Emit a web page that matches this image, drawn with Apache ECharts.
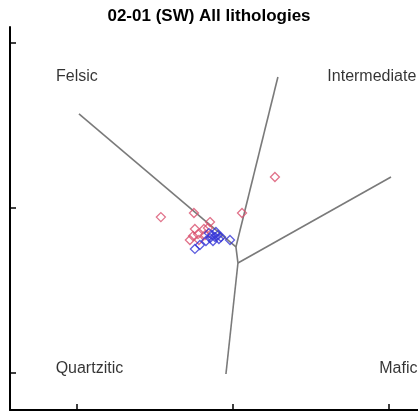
<!DOCTYPE html>
<html>
<head>
<meta charset="utf-8">
<script src="https://cdn.jsdelivr.net/npm/echarts@6/dist/echarts.min.js"></script>
<style>
html,body{margin:0;padding:0;background:#fff;}
#chart{width:418px;height:414px;}
</style>
</head>
<body>
<div id="chart"></div>
<script>
// Red group (x, y)
const redX = [0.269, -0.462, -0.250, 0.058, -0.147, -0.244, -0.186, -0.276, -0.218, -0.179, -0.224, -0.160, -0.256];
const redY = [0.188, -0.055, -0.030, -0.030, -0.085, -0.127, -0.127, -0.194, -0.194, -0.164, -0.158, -0.121, -0.170];
// Blue group (x, y)
const blueX = [-0.135, -0.115, -0.096, -0.077, -0.147, -0.173, -0.019, -0.244, -0.212, -0.109, -0.128, -0.090, -0.154];
const blueY = [-0.164, -0.176, -0.164, -0.176, -0.182, -0.200, -0.194, -0.248, -0.224, -0.145, -0.200, -0.188, -0.152];
// Boundary lines (pairs of end points)
const felsicLine = [[-0.987, 0.570], [0.019, -0.236]];
const intermediateLine = [[0.288, 0.794], [0.019, -0.236]];
const centralLine = [[0.019, -0.236], [0.032, -0.333]];
const maficLine = [[0.032, -0.333], [1.013, 0.188]];
const quartziticLine = [[0.032, -0.333], [-0.045, -1.006]];
// Region labels
const regionNames = ['Felsic', 'Intermediate', 'Quartzitic', 'Mafic'];
const regionX = [-1.0, 0.89, -0.92, 1.06];
const regionY = [0.795, 0.795, -0.972, -0.972];
const xTicks = [-1, 0, 1];
const yTicks = [-1, 0, 1];
const titleText = '02-01 (SW) All lithologies';

const chart = echarts.init(document.getElementById('chart'));
const font = 'Liberation Sans, Arial, sans-serif';
const lineStyle = {color: '#7a7a7a', width: 1.6};
function seg(d){
  return {type:'line', data:d, symbol:'none', lineStyle:lineStyle, silent:true, z:2, animation:false};
}
const option = {
  animation:false,
  title:{text:titleText, left:'center', top:3, textStyle:{fontFamily:font, fontSize:17, fontWeight:'bold', color:'#000'}},
  grid:{left:10, right:0, top:27, bottom:4},
  xAxis:{type:'value', min:-1.429, max:1.186,
    axisLine:{show:true, onZero:false, lineStyle:{color:'#000', width:2}},
    axisTick:{show:true, inside:true, length:6, customValues:xTicks, lineStyle:{color:'#000', width:1.5}},
    axisLabel:{show:false}, splitLine:{show:false}},
  yAxis:{type:'value', min:-1.224, max:1.097,
    axisLine:{show:true, onZero:false, lineStyle:{color:'#000', width:2}},
    axisTick:{show:true, inside:true, length:6, customValues:yTicks, lineStyle:{color:'#000', width:1.5}},
    axisLabel:{show:false}, splitLine:{show:false}},
  series:[
    seg(felsicLine), seg(intermediateLine), seg(centralLine), seg(maficLine), seg(quartziticLine),
    {type:'scatter', data:redX.map((x,i)=>[x, redY[i]]), symbol:'diamond', symbolSize:9,
      itemStyle:{color:'rgba(0,0,0,0)', borderColor:'#d9506e', borderWidth:1.3}, z:3},
    {type:'scatter', data:blueX.map((x,i)=>[x, blueY[i]]), symbol:'diamond', symbolSize:9,
      itemStyle:{color:'rgba(0,0,0,0)', borderColor:'#3434d6', borderWidth:1.3}, z:4},
    {type:'scatter', data:regionNames.map((n,i)=>({name:n, value:[regionX[i], regionY[i]]})), symbolSize:0,
      label:{show:true, position:'inside', formatter:'{b}', fontFamily:font, fontSize:16, color:'#000'}, silent:true, z:5}
  ]
};
chart.setOption(option);
</script>
</body>
</html>
